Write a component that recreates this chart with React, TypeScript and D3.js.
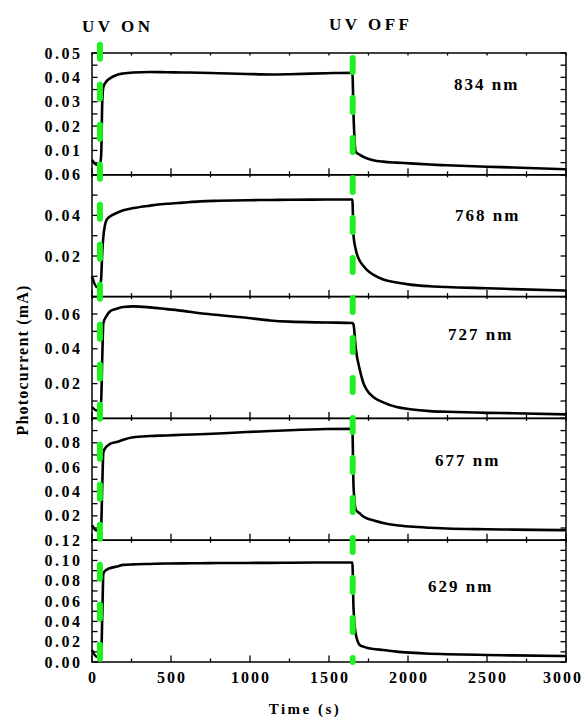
import React from 'react';
import * as d3 from 'd3';

// shared time grid (s)
const times = [0, 30, 50, 58, 65, 72, 93, 114, 156, 198, 261, 367, 472, 576, 684, 800, 979, 1127, 1250, 1485, 1648, 1655, 1670, 1696, 1717, 1738, 1780, 1843, 1928, 2013, 2139, 2245, 2498, 2667, 3000];

const nm834 = [0.0061, 0.0041, 0.0042, 0.008, 0.03, 0.036, 0.0385, 0.0396, 0.041, 0.0416, 0.042, 0.0422, 0.0421, 0.042, 0.0419, 0.0417, 0.0414, 0.0412, 0.0413, 0.0417, 0.0419, 0.025, 0.0094, 0.0082, 0.0074, 0.0068, 0.006, 0.0054, 0.005, 0.0047, 0.0042, 0.0039, 0.0033, 0.003, 0.0023];
const nm768 = [0.010, 0.0048, 0.005, 0.009, 0.022, 0.0297, 0.0379, 0.0395, 0.0412, 0.0425, 0.0436, 0.0448, 0.0457, 0.0463, 0.0469, 0.0472, 0.0475, 0.0476, 0.0477, 0.0478, 0.0478, 0.03, 0.023, 0.0174, 0.0152, 0.0133, 0.0108, 0.0084, 0.0069, 0.0059, 0.0051, 0.0047, 0.0041, 0.0037, 0.003];
const nm727 = [0.0065, 0.0046, 0.005, 0.01, 0.035, 0.0548, 0.059, 0.0615, 0.063, 0.064, 0.0644, 0.0638, 0.0628, 0.0618, 0.0604, 0.0594, 0.0578, 0.0563, 0.0556, 0.0551, 0.0548, 0.054, 0.040, 0.0275, 0.0205, 0.0165, 0.0123, 0.0092, 0.0065, 0.0053, 0.0042, 0.0038, 0.0032, 0.003, 0.0023];
const nm677 = [0.0123, 0.008, 0.0085, 0.012, 0.045, 0.0724, 0.077, 0.079, 0.0806, 0.0825, 0.0845, 0.0855, 0.086, 0.0866, 0.087, 0.0876, 0.0888, 0.0896, 0.0903, 0.0913, 0.0915, 0.045, 0.025, 0.0219, 0.0195, 0.018, 0.0164, 0.0142, 0.0123, 0.0112, 0.0102, 0.0096, 0.009, 0.0087, 0.0082];
const nm629 = [0.0118, 0.0052, 0.0052, 0.006, 0.045, 0.087, 0.091, 0.0924, 0.094, 0.0957, 0.0962, 0.0966, 0.097, 0.0972, 0.0973, 0.0975, 0.0976, 0.0977, 0.0978, 0.098, 0.098, 0.054, 0.027, 0.0165, 0.0152, 0.014, 0.0128, 0.0118, 0.0102, 0.0092, 0.0082, 0.0077, 0.0069, 0.0065, 0.0059];

const panelLabels = ['834 nm', '768 nm', '727 nm', '677 nm', '629 nm'];
const panelSeries = [nm834, nm768, nm727, nm677, nm629];
const yMax = [0.05, 0.06, 0.07, 0.10, 0.12];
const yMinorStep = [0.005, 0.01, 0.01, 0.01, 0.01];
const yLabelTicks = [
  [0.01, 0.02, 0.03, 0.04, 0.05],
  [0.02, 0.04, 0.06],
  [0.02, 0.04, 0.06],
  [0.02, 0.04, 0.06, 0.08, 0.10],
  [0.00, 0.02, 0.04, 0.06, 0.08, 0.10, 0.12],
];
const xTicks = [0, 500, 1000, 1500, 2000, 2500, 3000];
const uvOn = 50;
const uvOff = 1650;

const W = 586;
const H = 718;
const left = 92;
const right = 566;
const top = 53;
const panelH = 121.8;
const font = '"Liberation Serif", "Times New Roman", serif';
const labelPos = [
  [454, 90], [455, 221], [448, 340], [435, 466], [428, 592],
];

export default function App() {
  const x = d3.scaleLinear().domain([0, 3000]).range([left, right]);
  const minorX = d3.range(0, 3001, 250);
  const bottom = top + panelH * 5;

  return (
    <svg width={W} height={H} style={{ position: 'absolute', left: 0, top: 0 }} fontFamily={font} fontWeight="bold">
      {panelSeries.map((vals, i) => {
        const y0 = top + panelH * i;
        const y = d3.scaleLinear().domain([0, yMax[i]]).range([y0 + panelH, y0]);
        const yt = d3.range(0, yMax[i] + 1e-9, yMinorStep[i]);
        const line = d3
          .line<number>()
          .x((_, k) => x(times[k]))
          .y((v) => y(v))
          .curve(d3.curveMonotoneX);
        return (
          <g key={i}>
            <rect x={left} y={y0} width={right - left} height={panelH} fill="none" stroke="#000" strokeWidth={1.5} />
            {yt.map((t) => (
              <g key={t}>
                <line x1={left} x2={left + 5.5} y1={y(t)} y2={y(t)} stroke="#000" strokeWidth={1.3} />
                <line x1={right} x2={right - 5.5} y1={y(t)} y2={y(t)} stroke="#000" strokeWidth={1.3} />
              </g>
            ))}
            {minorX.map((t) => (
              <g key={t}>
                <line x1={x(t)} x2={x(t)} y1={y0 + panelH} y2={y0 + panelH - (t % 500 === 0 ? 6.5 : 3.5)} stroke="#000" strokeWidth={1.3} />
                <line x1={x(t)} x2={x(t)} y1={y0} y2={y0 + 2.5} stroke="#000" strokeWidth={1.3} />
              </g>
            ))}
            {yLabelTicks[i].map((t) => (
              <text key={t} x={82.5} y={y(t)} dy="0.35em" textAnchor="end" fontSize={16} letterSpacing={2.5}>
                {t.toFixed(2)}
              </text>
            ))}
            <path d={line(vals) || ''} fill="none" stroke="#000" strokeWidth={2.6} strokeLinejoin="round" />
            <text x={labelPos[i][0]} y={labelPos[i][1]} fontSize={17} letterSpacing={2}>
              {panelLabels[i]}
            </text>
          </g>
        );
      })}
      <line x1={x(uvOn)} x2={x(uvOn)} y1={44.7} y2={bottom} stroke="#22ee22" strokeWidth={6} strokeDasharray="14 26" strokeLinecap="round" />
      <line x1={x(uvOff)} x2={x(uvOff)} y1={58} y2={bottom} stroke="#22ee22" strokeWidth={6} strokeDasharray="14 26" strokeLinecap="round" />
      {xTicks.map((t) => (
        <text key={t} x={Math.min(x(t) + 1, 563)} y={683} textAnchor="middle" fontSize={16} letterSpacing={2}>
          {t}
        </text>
      ))}
      <text x={305} y={714} textAnchor="middle" fontSize={15} letterSpacing={2.5}>Time (s)</text>
      <text transform="translate(28,360) rotate(-90)" textAnchor="middle" fontSize={16} letterSpacing={1.2}>Photocurrent (mA)</text>
      <text x={82} y={31.5} fontSize={17} letterSpacing={3.5}>UV ON</text>
      <text x={329} y={30} fontSize={17} letterSpacing={3.5}>UV OFF</text>
    </svg>
  );
}
